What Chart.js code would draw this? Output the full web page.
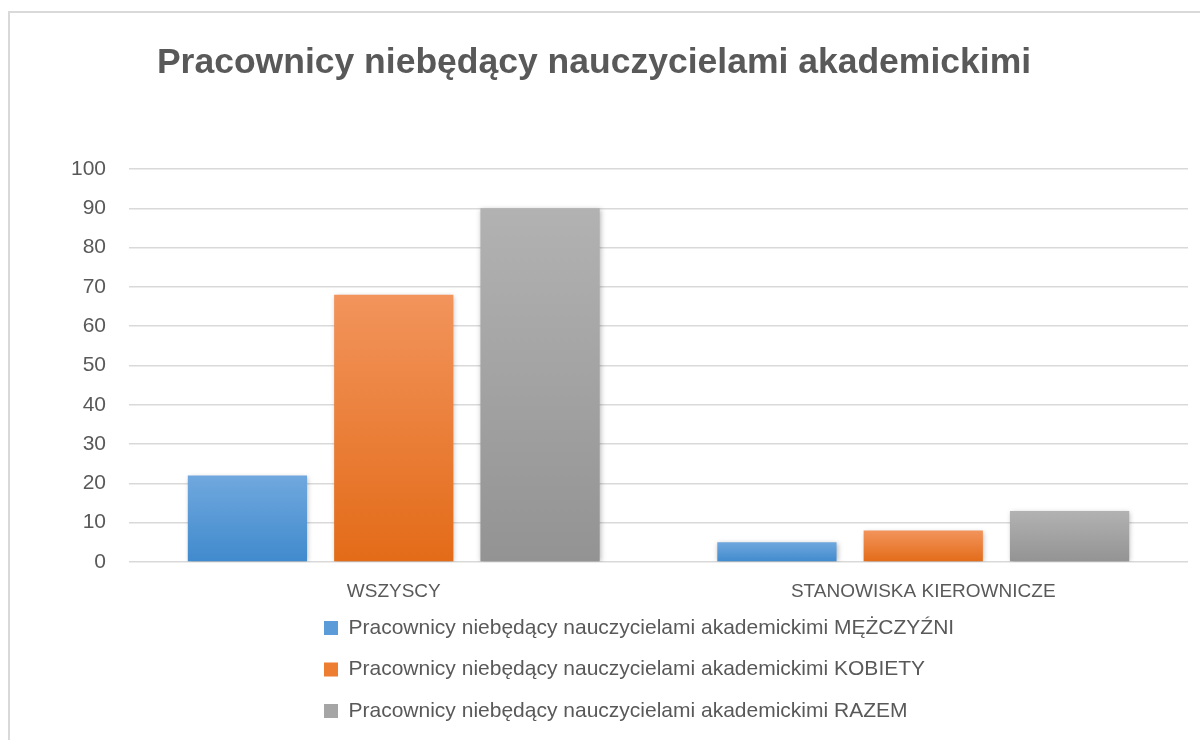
<!DOCTYPE html>
<html>
<head>
<meta charset="utf-8">
<script src="https://cdn.jsdelivr.net/npm/chart.js@4"></script>
<style>
  body { margin: 0; background: #fff; }
  #frame { position: absolute; left: 8px; top: 11px; width: 1300px; height: 800px;
           border-left: 2px solid #d9d9d9; border-top: 2px solid #d9d9d9; }
  #wrap { position: absolute; left: 0; top: 0; width: 1200px; height: 740px; }
</style>
</head>
<body>
<div id="frame"></div>
<div id="wrap"><canvas id="chart"></canvas></div>
<script>
// dane z wykresu
const categories = ['WSZYSCY', 'STANOWISKA KIEROWNICZE'];
const seriesNames = [
  'Pracownicy niebędący nauczycielami akademickimi MĘŻCZYŹNI',
  'Pracownicy niebędący nauczycielami akademickimi KOBIETY',
  'Pracownicy niebędący nauczycielami akademickimi RAZEM'
];
const menValues = [22, 5];
const womenValues = [68, 8];
const totalValues = [90, 13];
const yMin = 0, yMax = 100, yStep = 10;

const titleText = 'Pracownicy niebędący nauczycielami akademickimi';
const textColor = '#595959';
const gridColor = '#d9d9d9';
const legendX = 324;

// gradient od gory slupka do podstawy
function barFill(top, bottom) {
  return function (ctx) {
    const chart = ctx.chart;
    if (!chart.chartArea || ctx.type !== 'data') return bottom;
    const y = chart.scales.y;
    const y0 = y.getPixelForValue(ctx.parsed.y);
    const y1 = y.getPixelForValue(0);
    if (!isFinite(y0) || !isFinite(y1) || y0 === y1) return bottom;
    const g = chart.ctx.createLinearGradient(0, y0, 0, y1);
    g.addColorStop(0, top);
    g.addColorStop(1, bottom);
    return g;
  };
}

const legendColors = ['#5b9bd8', '#ed7d31', '#a5a5a5'];

const barShadow = {
  id: 'barShadow',
  beforeDatasetsDraw(chart) {
    const c = chart.ctx;
    c.save();
    c.shadowColor = 'rgba(0,0,0,0.28)';
    c.shadowBlur = 5;
    c.shadowOffsetX = 1;
    c.shadowOffsetY = 1;
  },
  afterDatasetsDraw(chart) {
    chart.ctx.restore();
  }
};

// legenda wyrownana do lewej w jednym miejscu
const legendShift = {
  id: 'legendShift',
  afterLayout(chart) {
    const lg = chart.legend;
    if (!lg) return;
    const pad = lg.options.labels.padding;
    const w = lg.right - lg.left;
    lg.left = legendX - pad;
    lg.right = lg.left + w;
  }
};

new Chart(document.getElementById('chart'), {
  type: 'bar',
  data: {
    labels: categories,
    datasets: [
      { label: seriesNames[0], data: menValues, backgroundColor: barFill('#70a8de', '#408acd') },
      { label: seriesNames[1], data: womenValues, backgroundColor: barFill('#f2945c', '#e36b18') },
      { label: seriesNames[2], data: totalValues, backgroundColor: barFill('#b2b2b2', '#939393') }
    ]
  },
  options: {
    responsive: true,
    maintainAspectRatio: false,
    animation: false,
    categoryPercentage: 0.829,
    barPercentage: 0.815,
    layout: { padding: { left: 0, right: 12, top: 0, bottom: 8.5 } },
    plugins: {
      title: {
        display: true,
        text: titleText,
        color: textColor,
        font: { family: 'Liberation Sans', size: 35.5, weight: 'bold' },
        padding: { top: 42, bottom: 84.4 }
      },
      legend: {
        position: 'bottom',
        align: 'start',
        labels: {
          color: textColor,
          font: { family: 'Liberation Sans', size: 21 },
          boxWidth: 14,
          boxHeight: 14,
          padding: 20.5,
          generateLabels(chart) {
            const items = Chart.defaults.plugins.legend.labels.generateLabels(chart);
            items.forEach(function (it, i) {
              it.fillStyle = legendColors[i];
              it.strokeStyle = legendColors[i];
              it.lineWidth = 0;
            });
            return items;
          }
        }
      },
      tooltip: { enabled: false }
    },
    scales: {
      x: {
        grid: { display: false, drawTicks: false },
        border: { display: false },
        afterFit(scale) { scale.height = 35; },
        ticks: {
          color: textColor,
          padding: 18.6,
          font: { family: 'Liberation Sans', size: 19 }
        }
      },
      y: {
        min: yMin,
        max: yMax,
        grid: { color: gridColor, lineWidth: 1.5, drawTicks: false },
        border: { display: false },
        afterFit(scale) { scale.width = 129; },
        ticks: {
          stepSize: yStep,
          color: textColor,
          padding: 23,
          font: { family: 'Liberation Sans', size: 21 }
        }
      }
    }
  },
  plugins: [barShadow, legendShift]
});
</script>
</body>
</html>
